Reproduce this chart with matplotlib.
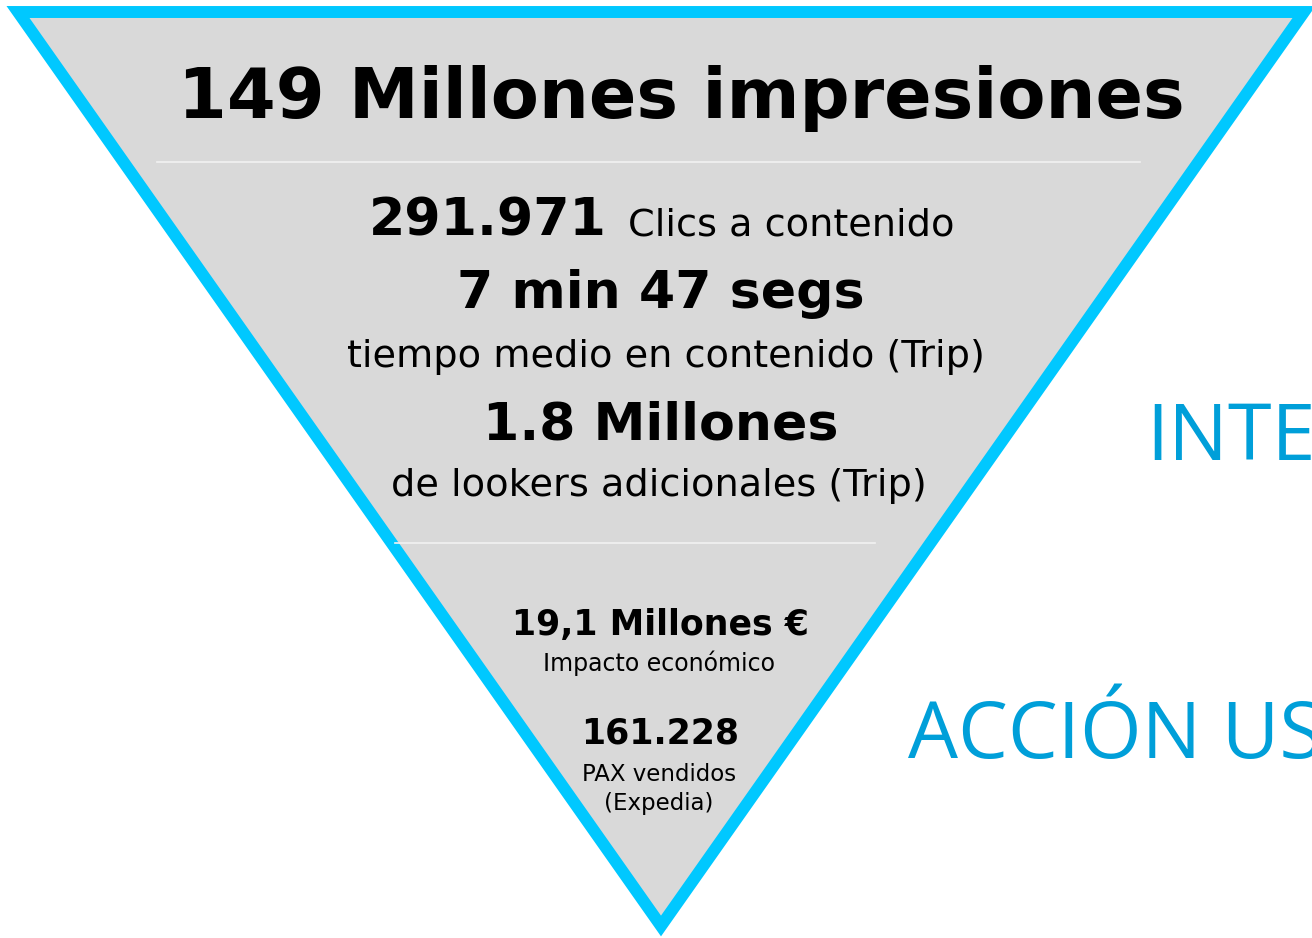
import matplotlib
matplotlib.use("Agg")
import matplotlib.pyplot as plt
from matplotlib.patches import Polygon

# textos del embudo (de arriba a abajo)
titulo = "149 Millones impresiones"
clics_valor = "291.971"
clics_texto = "Clics a contenido"
tiempo_valor = "7 min 47 segs"
tiempo_texto = "tiempo medio en contenido (Trip)"
lookers_valor = "1.8 Millones"
lookers_texto = "de lookers adicionales (Trip)"
impacto_valor = "19,1 Millones €"
impacto_texto = "Impacto económico"
pax_valor = "161.228"
pax_texto = ["PAX vendidos", "(Expedia)"]
etapas = ["INTE", "ACCIÓN US"]

W, H = 1312, 938
GRIS = "#d9d9d9"
CIAN = "#00c8ff"
AZUL = "#009fd9"

fig = plt.figure(figsize=(13.12, 9.38), dpi=100)
ax = fig.add_axes([0, 0, 1, 1])
ax.set_xlim(0, W)
ax.set_ylim(H, 0)
ax.axis("off")

tri = Polygon([(18, 12), (1304, 12), (661, 926)], closed=True,
              facecolor=GRIS, edgecolor=CIAN, lw=8.6, joinstyle="miter")
ax.add_patch(tri)

# separadores
ax.plot([157, 1140], [162, 162], color="#f2f2f2", lw=1.2)
ax.plot([395, 875], [543, 543], color="#f2f2f2", lw=1.2)

fam = "DejaVu Sans"
cx = 661

def t(x, y, s, size, bold=False, ha="center", **kw):
    ax.text(x, y, s, fontsize=size, fontweight="bold" if bold else "normal",
            ha=ha, va="baseline", family=fam, color="black", **kw)

t(681, 118, titulo, 50.5, bold=True)

t(607, 235, clics_valor, 37.5, bold=True, ha="right")
t(628, 235, clics_texto, 27.5, ha="left")
t(cx, 308, tiempo_valor, 37.5, bold=True)
t(666, 367, tiempo_texto, 27.5)
t(cx, 440, lookers_valor, 37.5, bold=True)
t(659, 496, lookers_texto, 27.5)

t(660, 635, impacto_valor, 25, bold=True)
t(659, 671, impacto_texto, 17)
t(660, 744, pax_valor, 25, bold=True)
t(659, 781, pax_texto[0], 16.5)
t(659, 810, pax_texto[1], 16.5)

# etiquetas de las etapas (cortadas por el borde, como en el original)
ax.text(1146, 460, etapas[0], fontsize=57, color=AZUL, family="Open Sans",
        ha="left", va="baseline")
ax.text(908, 758, etapas[1], fontsize=57, color=AZUL, family="Open Sans",
        ha="left", va="baseline")

fig.savefig("out.png", dpi=100)
